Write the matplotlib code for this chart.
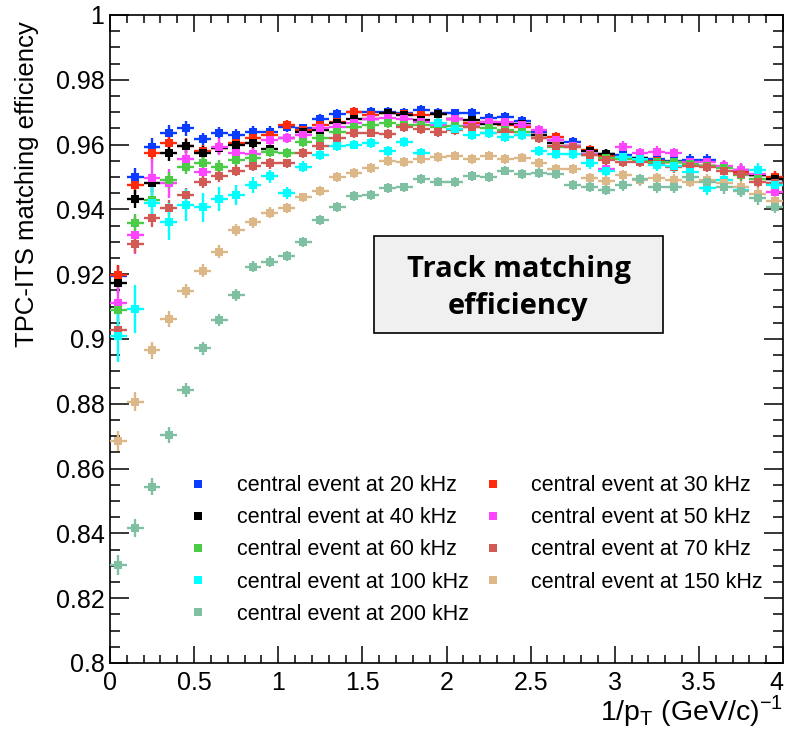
import matplotlib
matplotlib.use("Agg")
import matplotlib.pyplot as plt
from matplotlib.lines import Line2D
from matplotlib.patches import Rectangle
from matplotlib.ticker import MultipleLocator

plt.rcParams['font.family'] = ['Liberation Sans', 'DejaVu Sans']
plt.rcParams['mathtext.fontset'] = 'custom'
plt.rcParams['mathtext.rm'] = 'Liberation Sans'

# ---------------- data ----------------
x_centers = [0.05, 0.15, 0.25, 0.35, 0.45, 0.55, 0.65, 0.75, 0.85, 0.95,
             1.05, 1.15, 1.25, 1.35, 1.45, 1.55, 1.65, 1.75, 1.85, 1.95,
             2.05, 2.15, 2.25, 2.35, 2.45, 2.55, 2.65, 2.75, 2.85, 2.95,
             3.05, 3.15, 3.25, 3.35, 3.45, 3.55, 3.65, 3.75, 3.85, 3.95]
x_halfwidth = 0.05

eff_20 = [0.9195, 0.9501, 0.9594, 0.9635, 0.9650, 0.9617, 0.9635, 0.9630, 0.9640, 0.9640,
          0.9655, 0.9650, 0.9678, 0.9694, 0.9700, 0.9702, 0.9700, 0.9698, 0.9707, 0.9698,
          0.9696, 0.9698, 0.9682, 0.9686, 0.9672, 0.9640, 0.9614, 0.9609, 0.9580, 0.9571,
          0.9568, 0.9560, 0.9555, 0.9550, 0.9552, 0.9552, 0.9530, 0.9520, 0.9505, 0.9495]
eff_30 = [0.9198, 0.9475, 0.9574, 0.9604, 0.9597, 0.9580, 0.9590, 0.9605, 0.9620, 0.9630,
          0.9660, 0.9645, 0.9660, 0.9670, 0.9702, 0.9690, 0.9697, 0.9695, 0.9690, 0.9694,
          0.9680, 0.9666, 0.9670, 0.9660, 0.9655, 0.9630, 0.9624, 0.9595, 0.9583, 0.9565,
          0.9560, 0.9555, 0.9550, 0.9545, 0.9540, 0.9535, 0.9530, 0.9515, 0.9505, 0.9499]
eff_40 = [0.9172, 0.9432, 0.9480, 0.9573, 0.9596, 0.9575, 0.9590, 0.9600, 0.9604, 0.9586,
          0.9620, 0.9640, 0.9645, 0.9668, 0.9680, 0.9678, 0.9696, 0.9690, 0.9676, 0.9694,
          0.9680, 0.9675, 0.9665, 0.9665, 0.9664, 0.9630, 0.9604, 0.9595, 0.9580, 0.9571,
          0.9560, 0.9558, 0.9545, 0.9545, 0.9540, 0.9535, 0.9530, 0.9522, 0.9505, 0.9493]
eff_50 = [0.9110, 0.9321, 0.9497, 0.9480, 0.9555, 0.9516, 0.9594, 0.9573, 0.9570, 0.9614,
          0.9620, 0.9630, 0.9650, 0.9655, 0.9666, 0.9680, 0.9683, 0.9678, 0.9670, 0.9660,
          0.9680, 0.9660, 0.9670, 0.9670, 0.9662, 0.9645, 0.9615, 0.9595, 0.9570, 0.9525,
          0.9594, 0.9573, 0.9578, 0.9573, 0.9545, 0.9547, 0.9535, 0.9522, 0.9510, 0.9455]
eff_60 = [0.9090, 0.9357, 0.9430, 0.9490, 0.9532, 0.9544, 0.9532, 0.9552, 0.9558, 0.9578,
          0.9575, 0.9607, 0.9620, 0.9640, 0.9653, 0.9660, 0.9666, 0.9662, 0.9660, 0.9655,
          0.9658, 0.9655, 0.9650, 0.9645, 0.9640, 0.9620, 0.9594, 0.9594, 0.9568, 0.9560,
          0.9555, 0.9550, 0.9545, 0.9545, 0.9540, 0.9535, 0.9527, 0.9506, 0.9495, 0.9480]
eff_70 = [0.9028, 0.9293, 0.9373, 0.9404, 0.9444, 0.9486, 0.9503, 0.9520, 0.9534, 0.9542,
          0.9542, 0.9573, 0.9596, 0.9620, 0.9635, 0.9637, 0.9633, 0.9653, 0.9647, 0.9640,
          0.9645, 0.9655, 0.9635, 0.9640, 0.9630, 0.9620, 0.9595, 0.9594, 0.9568, 0.9552,
          0.9547, 0.9547, 0.9540, 0.9530, 0.9535, 0.9532, 0.9520, 0.9510, 0.9486, 0.9480]
eff_100 = [0.9010, 0.9093, 0.9420, 0.9362, 0.9414, 0.9407, 0.9432, 0.9444, 0.9475, 0.9503,
           0.9450, 0.9532, 0.9568, 0.9596, 0.9600, 0.9604, 0.9580, 0.9609, 0.9575, 0.9667,
           0.9647, 0.9630, 0.9635, 0.9624, 0.9630, 0.9581, 0.9571, 0.9571, 0.9542, 0.9520,
           0.9563, 0.9555, 0.9537, 0.9535, 0.9516, 0.9465, 0.9490, 0.9460, 0.9522, 0.9475]
eff_150 = [0.8685, 0.8807, 0.8965, 0.9062, 0.9148, 0.9210, 0.9270, 0.9336, 0.9360, 0.9390,
           0.9404, 0.9437, 0.9456, 0.9500, 0.9513, 0.9528, 0.9550, 0.9547, 0.9555, 0.9561,
           0.9566, 0.9556, 0.9566, 0.9556, 0.9560, 0.9544, 0.9525, 0.9524, 0.9496, 0.9488,
           0.9506, 0.9490, 0.9496, 0.9490, 0.9486, 0.9490, 0.9480, 0.9470, 0.9448, 0.9427]
eff_200 = [0.8302, 0.8417, 0.8544, 0.8704, 0.8843, 0.8971, 0.9059, 0.9136, 0.9223, 0.9239,
           0.9256, 0.9300, 0.9368, 0.9408, 0.9441, 0.9444, 0.9465, 0.9468, 0.9493, 0.9486,
           0.9484, 0.9503, 0.9501, 0.9520, 0.9509, 0.9513, 0.9509, 0.9475, 0.9470, 0.9461,
           0.9475, 0.9493, 0.9468, 0.9468, 0.9500, 0.9484, 0.9468, 0.9458, 0.9434, 0.9408]

err_common = [0.0030, 0.0028, 0.0026, 0.0024, 0.0022, 0.0020, 0.0019, 0.0018, 0.0017, 0.0016,
              0.0015, 0.0015, 0.0015, 0.0015, 0.0015, 0.0015, 0.0015, 0.0015, 0.0015, 0.0015,
              0.0015, 0.0015, 0.0015, 0.0015, 0.0015, 0.0015, 0.0015, 0.0015, 0.0016, 0.0016,
              0.0017, 0.0017, 0.0017, 0.0018, 0.0018, 0.0018, 0.0019, 0.0019, 0.0020, 0.0020]
err_50 = [0.0050, 0.0060, 0.0060, 0.0045, 0.0040, 0.0030, 0.0025, 0.0022, 0.0020, 0.0018,
          0.0016, 0.0015, 0.0015, 0.0015, 0.0015, 0.0015, 0.0015, 0.0015, 0.0015, 0.0015,
          0.0015, 0.0015, 0.0015, 0.0015, 0.0015, 0.0015, 0.0015, 0.0015, 0.0016, 0.0016,
          0.0018, 0.0018, 0.0018, 0.0018, 0.0018, 0.0019, 0.0019, 0.0020, 0.0020, 0.0020]
err_100 = [0.0080, 0.0075, 0.0054, 0.0057, 0.0050, 0.0045, 0.0037, 0.0030, 0.0025, 0.0020,
           0.0018, 0.0017, 0.0016, 0.0016, 0.0015, 0.0015, 0.0015, 0.0015, 0.0015, 0.0015,
           0.0015, 0.0015, 0.0015, 0.0015, 0.0015, 0.0016, 0.0016, 0.0016, 0.0017, 0.0017,
           0.0018, 0.0018, 0.0018, 0.0019, 0.0019, 0.0020, 0.0020, 0.0021, 0.0021, 0.0022]

rates = ["20", "30", "40", "50", "60", "70", "100", "150", "200"]
series = [eff_20, eff_30, eff_40, eff_50, eff_60, eff_70, eff_100, eff_150, eff_200]
errors = [err_common, err_common, err_common, err_50, err_common, err_common, err_100,
          err_common, err_common]
colors = ["#0a3cff", "#ff2a0a", "#000000", "#ff44ff", "#4ccc46", "#d25a55",
          "#00ffff", "#dcb888", "#80c0a2"]

# ---------------- figure ----------------
fig = plt.figure(figsize=(7.88, 7.32), dpi=100)
ax = fig.add_axes([110 / 788, 1 - 663 / 732, 673 / 788, 648 / 732])

handles = {}
for rate, vals, errs, col in zip(rates, series, errors, colors):
    ax.errorbar(x_centers, vals, yerr=errs, xerr=x_halfwidth, fmt='s', color=col,
                ecolor=col, elinewidth=1.7, capsize=0, markersize=5.6,
                markeredgewidth=0, zorder=3)
    handles[rate] = Line2D([], [], marker='s', linestyle='none', color=col,
                           markersize=5.6, markeredgewidth=0)

ax.set_xlim(0, 4)
ax.set_ylim(0.8, 1.0)
ax.xaxis.set_major_locator(MultipleLocator(0.5))
ax.xaxis.set_minor_locator(MultipleLocator(0.1))
ax.yaxis.set_major_locator(MultipleLocator(0.02))
ax.yaxis.set_minor_locator(MultipleLocator(0.005))
ax.xaxis.set_major_formatter(plt.FuncFormatter(lambda v, p: f"{v:g}"))
ax.yaxis.set_major_formatter(plt.FuncFormatter(lambda v, p: f"{v:g}"))
ax.tick_params(axis='both', which='both', direction='in', top=True, right=True,
               width=1.1, labelsize=18)
ax.tick_params(axis='y', which='major', length=14, pad=4)
ax.tick_params(axis='y', which='minor', length=7)
ax.tick_params(axis='x', which='major', length=12, pad=6)
ax.tick_params(axis='x', which='minor', length=6)
for s in ax.spines.values():
    s.set_linewidth(1.2)

ax.set_ylabel("TPC-ITS matching efficiency", fontsize=18.5, loc='top')
ax.yaxis.set_label_coords(-0.106, 0.99)
ax.set_xlabel(r"1/p$_\mathregular{T}$ (GeV/c)$^\mathregular{-1}$", fontsize=20.5, loc='right')
ax.xaxis.set_label_coords(1.0, -0.047)

order = ["20", "40", "60", "100", "200", "30", "50", "70", "150"]
ax.legend([handles[r] for r in order],
          [f"central event at {r} kHz" for r in order],
          ncol=2, frameon=False, loc='upper left', bbox_to_anchor=(0.115, 0.29),
          fontsize=15.5, handlelength=1.0, handletextpad=1.3, columnspacing=0.6,
          labelspacing=0.52, borderpad=0, borderaxespad=0)

# text box
ax.add_patch(Rectangle((0.392, 0.509), 0.43, 0.15, transform=ax.transAxes,
                       facecolor='#f0f0f0', edgecolor='black', linewidth=1.2, zorder=4))
ax.text(0.607, 0.579, "Track matching\nefficiency", transform=ax.transAxes,
        ha='center', va='center', fontsize=21, fontweight='bold',
        family=['Open Sans', 'DejaVu Sans'], linespacing=1.35, zorder=5)

fig.canvas.draw()
for tick in ax.xaxis.get_major_ticks():
    if abs(tick.get_loc() - 4.0) < 1e-9:
        tick.label1.set_horizontalalignment('right')
        tick.label1.set_x(4.0)

fig.savefig("out.png", dpi=100)
